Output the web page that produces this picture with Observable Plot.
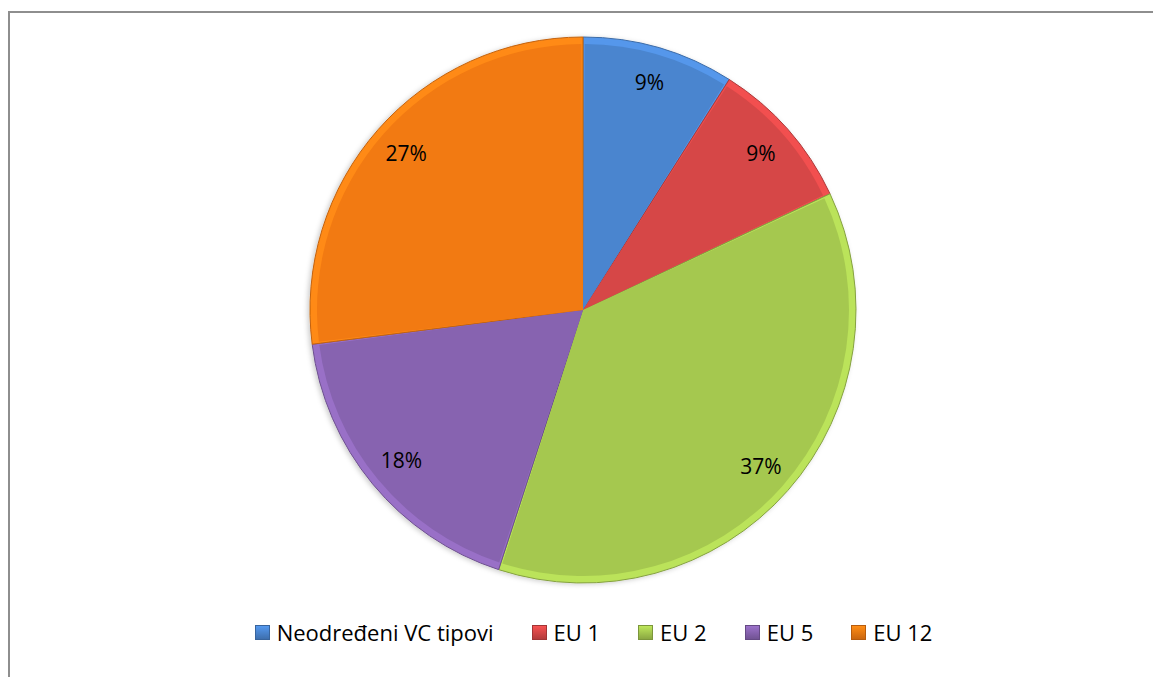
<!DOCTYPE html>
<html>
<head>
<meta charset="utf-8">
<script src="https://cdn.jsdelivr.net/npm/d3@7"></script>
<script src="https://cdn.jsdelivr.net/npm/@observablehq/plot@0.6"></script>
<style>
  html, body { margin: 0; padding: 0; background: #fff; }
  #wrap { position: relative; width: 1153px; height: 677px; overflow: hidden; font-family: "Open Sans", "Liberation Sans", sans-serif; }
  #frame { position: absolute; left: 8px; top: 11px; width: 1300px; height: 800px; border: 2px solid #8e8e8e; box-sizing: border-box; }
  #chart { position: absolute; left: 0; top: 0; }
  #legend { position: absolute; left: 0; top: 617px; width: 1153px; display: flex; justify-content: center; align-items: center; font-size: 22px; color: #000; padding-left: 34px; box-sizing: border-box; }
  .item { display: flex; align-items: center; margin: 0 19px; }
  .sw { width: 15px; height: 15px; margin-right: 7px; box-sizing: border-box; }
</style>
</head>
<body>
<div id="wrap">
  <div id="frame"></div>
  <div id="chart"></div>
  <div id="legend"></div>
</div>
<script>
const categories = ["Neodređeni VC tipovi", "EU 1", "EU 2", "EU 5", "EU 12"];
const values = [9, 9, 37, 18, 27];
const labels = ["9%", "9%", "37%", "18%", "27%"];
const colors = ["#4a85cf", "#d64747", "#a5c84f", "#8763b0", "#f27a12"];

const data = categories.map((c, i) => ({category: c, value: values[i], label: labels[i], color: colors[i]}));
const pie = d3.pie().value(d => d.value).sort(null)(data);
const labelR = 0.866;
const labelData = pie.map(p => {
  const a = (p.startAngle + p.endAngle) / 2;
  return {label: p.data.label, x: Math.sin(a) * labelR, y: Math.cos(a) * labelR};
});

function pieMark(index, scales, values, dimensions, context) {
  const cx = scales.x(0), cy = scales.y(0);
  const r = scales.x(1) - scales.x(0);
  const svg = d3.select(context.document.createElementNS("http://www.w3.org/2000/svg", "g"));
  const defs = svg.append("defs");
  const f = defs.append("filter").attr("id", "shadow").attr("x", "-10%").attr("y", "-10%").attr("width", "120%").attr("height", "120%");
  f.append("feGaussianBlur").attr("in", "SourceAlpha").attr("stdDeviation", 2.5);
  f.append("feOffset").attr("dx", -2).attr("dy", 1).attr("result", "b");
  f.append("feFlood").attr("flood-color", "#000").attr("flood-opacity", 0.2);
  f.append("feComposite").attr("in2", "b").attr("operator", "in");
  const m = f.append("feMerge");
  m.append("feMergeNode");
  m.append("feMergeNode").attr("in", "SourceGraphic");
  const g = svg.append("g").attr("transform", `translate(${cx},${cy})`);
  const arcOuter = d3.arc().innerRadius(0).outerRadius(r);
  const arcInner = d3.arc().innerRadius(0).outerRadius(r - 7).padAngle(0.012).padRadius(r);
  const sh = g.append("g").attr("filter", "url(#shadow)");
  sh.selectAll("path").data(pie).join("path")
    .attr("d", arcOuter)
    .attr("fill", d => d3.color(d.data.color).brighter(0.35))
    .attr("stroke", d => d3.color(d.data.color).darker(0.6))
    .attr("stroke-width", 1);
  g.append("g").selectAll("path").data(pie).join("path")
    .attr("d", arcInner)
    .attr("fill", d => d.data.color);
  return svg.node();
}

const chart = Plot.plot({
  width: 1153,
  height: 677,
  marginLeft: 310,
  marginRight: 297,
  marginTop: 37,
  marginBottom: 94,
  x: {domain: [-1, 1], axis: null},
  y: {domain: [-1, 1], axis: null},
  style: {background: "transparent", fontFamily: "'Open Sans', 'Liberation Sans', sans-serif"},
  marks: [
    pieMark,
    Plot.text(labelData, {x: "x", y: "y", text: "label", fontSize: 21, fill: "#000"})
  ]
});
document.getElementById("chart").appendChild(chart);

const legend = document.getElementById("legend");
data.forEach(d => {
  const it = document.createElement("div");
  it.className = "item";
  const sw = document.createElement("div");
  sw.className = "sw";
  sw.style.background = `linear-gradient(${d3.color(d.color).brighter(0.4)}, ${d3.color(d.color).darker(0.5)})`;
  sw.style.border = `1px solid ${d3.color(d.color).darker(0.8)}`;
  const t = document.createElement("span");
  t.textContent = d.category;
  it.appendChild(sw); it.appendChild(t);
  legend.appendChild(it);
});
</script>
</body>
</html>
